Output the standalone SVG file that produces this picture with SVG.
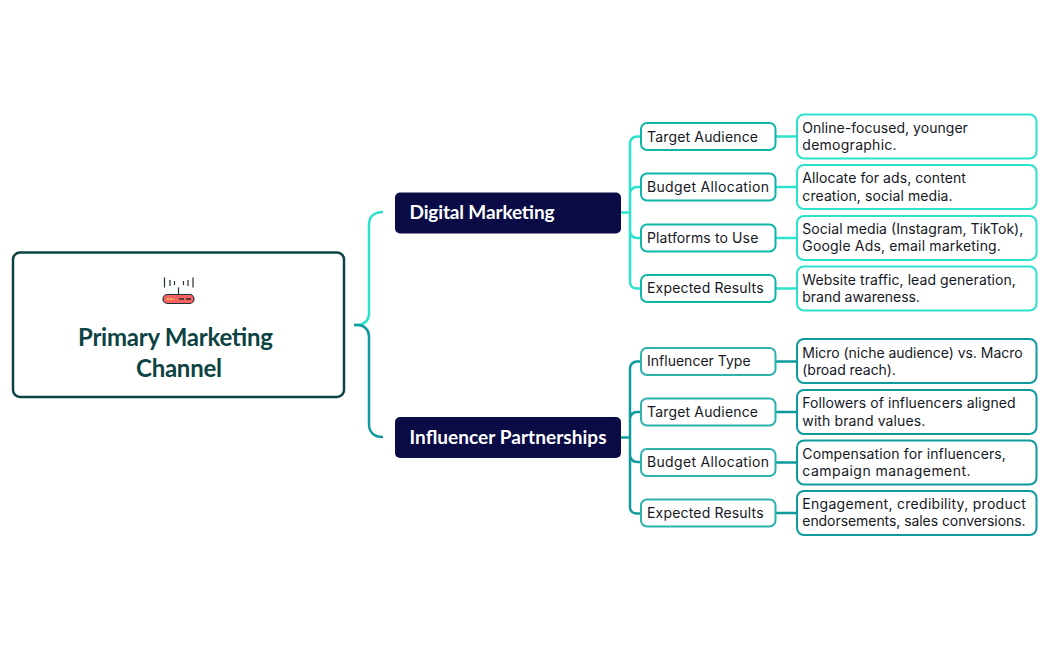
<svg xmlns="http://www.w3.org/2000/svg" width="1049" height="650" viewBox="0 0 1049 650">
<style>
.c{fill:none;stroke-width:2.500}
.a{stroke:#2de2cc}.b{stroke:#0f9a9e}
.ch{fill:#fff;stroke-width:2;rx:6px}
.ca{stroke:#0fb5a6}.cb{stroke:#2db3ab}
.lf{fill:#fff;stroke-width:2;rx:7px}
.t{font-family:Inter,"Open Sans",sans-serif;font-size:14px;font-weight:400;fill:#14181f}
.br{fill:#0b0b45}
.bt{font-family:Lato,"Noto Sans",sans-serif;font-weight:700;font-size:19px;fill:#fff}
.rt{font-family:Lato,"Noto Sans",sans-serif;font-weight:700;font-size:24px;fill:#0d4343}
</style>
<g id="connectors">
<path class="c a" d="M354 325h4c6 0 11-5 11-11V225c0-8 5-13 14-13"/>
<path class="c b" d="M354 325h4c6 0 11 5 11 11v88c0 8 5 13 14 13"/>
<path class="c a" d="M620.500 212.500H630M641 136.500h-4c-4 0-7 3-7 7V282c0 4 3 6.500 7 6.500h4M641 187h-4c-4 0-7 3-7 7M630 231c0 4 3 7 7 7h4"/>
<path class="c a" d="M775.500 136.500h21M775.500 187h21M775.500 238h21M775.500 288.500h21"/>
<path class="c b" d="M620.500 437.500H630M641 361.500h-4c-4 0-7 3-7 7V507c0 4 3 6.500 7 6.500h4M641 412h-4c-4 0-7 3-7 7M630 455c0 4 3 7 7 7h4"/>
<path class="c b" d="M775.500 361.500h21M775.500 412h21M775.500 462.500h21M775.500 513h21"/>
</g>
<g id="root">
<rect x="13" y="252.500" width="331" height="144.500" rx="7" fill="#fff" stroke="#0d4343" stroke-width="2.500"/>
<g fill="none" stroke="#22303a" stroke-width="1.200">
<path d="M164.500 277.500v10M170 280v6M174.500 281v4M183.500 281v4M188 280v6M193 277.500v10M178.500 287.500v7"/>
</g>
<rect x="163" y="294.500" width="31" height="9" rx="4.500" fill="#f8635f" stroke="#22303a" stroke-width="1.200"/>
<path d="M167 299h7" stroke="#ffd34e" stroke-width="1.500" stroke-dasharray="2 1"/>
<path d="M179 299h5M186 299h5" stroke="#22303a" stroke-width="1.500"/>
<text class="rt" x="78" y="346" textLength="195">Primary Marketing</text>
<text class="rt" x="136" y="377" textLength="86">Channel</text>
</g>
<g id="branch-digital"><rect class="br" x="395" y="192.500" width="226" height="41" rx="5"/><text class="bt" x="409.500" y="218.500" textLength="145">Digital Marketing</text></g>
<g id="branch-influencer"><rect class="br" x="395" y="417" width="226" height="41" rx="5"/><text class="bt" x="409.500" y="443.500" textLength="197">Influencer Partnerships</text></g>
<g id="c1"><rect class="ch ca" x="641" y="123" width="134.500" height="27"/><text class="t" x="647" y="141.500" textLength="111">Target Audience</text></g>
<g id="c2"><rect class="ch ca" x="641" y="173.500" width="134.500" height="27"/><text class="t" x="647" y="192" textLength="122">Budget Allocation</text></g>
<g id="c3"><rect class="ch ca" x="641" y="224.500" width="134.500" height="27"/><text class="t" x="647" y="242.500" textLength="111.300">Platforms to Use</text></g>
<g id="c4"><rect class="ch ca" x="641" y="275" width="134.500" height="27"/><text class="t" x="647" y="293" textLength="116.600">Expected Results</text></g>
<g id="c5"><rect class="ch cb" x="641" y="348" width="134.500" height="27"/><text class="t" x="647" y="366" textLength="103.600">Influencer Type</text></g>
<g id="c6"><rect class="ch cb" x="641" y="398.500" width="134.500" height="27"/><text class="t" x="647" y="416.500" textLength="111">Target Audience</text></g>
<g id="c7"><rect class="ch cb" x="641" y="449" width="134.500" height="27"/><text class="t" x="647" y="467" textLength="122">Budget Allocation</text></g>
<g id="c8"><rect class="ch cb" x="641" y="499.500" width="134.500" height="27"/><text class="t" x="647" y="518" textLength="116.600">Expected Results</text></g>
<g id="l1"><rect class="lf a" x="797" y="114.500" width="239.500" height="44"/><text class="t" x="802.300" y="132.500" textLength="165.600">Online-focused, younger</text><text class="t" x="802.300" y="150" textLength="94.300">demographic.</text></g>
<g id="l2"><rect class="lf a" x="797" y="165" width="239.500" height="44"/><text class="t" x="802.300" y="183" textLength="163.600">Allocate for ads, content</text><text class="t" x="802.300" y="200.500" textLength="150.300">creation, social media.</text></g>
<g id="l3"><rect class="lf a" x="797" y="216" width="239.500" height="44"/><text class="t" x="802.300" y="233.500" textLength="221">Social media (Instagram, TikTok),</text><text class="t" x="802.300" y="251" textLength="198.600">Google Ads, email marketing.</text></g>
<g id="l4"><rect class="lf a" x="797" y="266.500" width="239.500" height="44"/><text class="t" x="802.300" y="284.500" textLength="213.600">Website traffic, lead generation,</text><text class="t" x="802.300" y="301.500" textLength="117.600">brand awareness.</text></g>
<g id="l5"><rect class="lf b" x="797" y="339" width="239.500" height="44"/><text class="t" x="802.300" y="357.500" textLength="220.300">Micro (niche audience) vs. Macro</text><text class="t" x="802.300" y="375" textLength="93.600">(broad reach).</text></g>
<g id="l6"><rect class="lf b" x="797" y="390" width="239.500" height="44"/><text class="t" x="802.300" y="408" textLength="213.300">Followers of influencers aligned</text><text class="t" x="802.300" y="425.500" textLength="123">with brand values.</text></g>
<g id="l7"><rect class="lf b" x="797" y="440.500" width="239.500" height="44"/><text class="t" x="802.300" y="459" textLength="203.600">Compensation for influencers,</text><text class="t" x="802.300" y="476" textLength="168.300">campaign management.</text></g>
<g id="l8"><rect class="lf b" x="797" y="491" width="239.500" height="44"/><text class="t" x="802.300" y="509" textLength="223.600">Engagement, credibility, product</text><text class="t" x="802.300" y="526" textLength="223.300">endorsements, sales conversions.</text></g>
</svg>
